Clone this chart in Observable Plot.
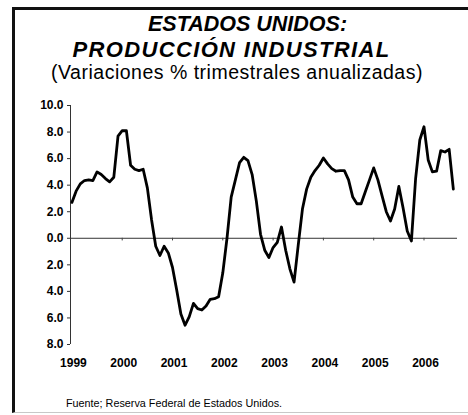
<!DOCTYPE html>
<html>
<head>
<meta charset="utf-8">
<script src="https://cdn.jsdelivr.net/npm/d3@7"></script>
<script src="https://cdn.jsdelivr.net/npm/@observablehq/plot@0.6"></script>
<style>
  html, body { margin: 0; padding: 0; background: #fff; }
  #wrap { position: relative; width: 468px; height: 415px; overflow: hidden; font-family: "Liberation Sans", Arial, sans-serif; color: #000; }
  #frame { position: absolute; left: 12px; top: 7px; width: 480px; height: 402px; border-top: 3px solid #111; border-left: 3px solid #111; border-bottom: 1px solid #c8c8c8; }
  .txt { position: absolute; white-space: nowrap; line-height: 1; transform: translateX(-50%); }
  #t1 { left: 247.5px; top: 13.8px; font-size: 21.5px; font-weight: bold; font-style: italic; }
  #t2 { left: 231.5px; top: 39.3px; font-size: 22px; font-weight: bold; font-style: italic; letter-spacing: 1.35px; }
  #sub { left: 237px; top: 63px; font-size: 19.5px; letter-spacing: 0.5px; }
  #foot { position: absolute; left: 66px; top: 397.7px; font-size: 10.8px; line-height: 1; white-space: nowrap; }
  #chart { position: absolute; left: 0; top: 95px; }
</style>
</head>
<body>
<div id="wrap">
  <div id="frame"></div>
  <div class="txt" id="t1">ESTADOS UNIDOS:</div>
  <div class="txt" id="t2">PRODUCCIÓN INDUSTRIAL</div>
  <div class="txt" id="sub">(Variaciones % trimestrales anualizadas)</div>
  <div id="chart"></div>
  <div id="foot">Fuente; Reserva Federal de Estados Unidos.</div>
</div>
<script>
// Monthly series, January 1999 – August 2006 (% change, 3-month annualized)
const startYear = 1999;
const values1999 = [2.7, 3.55, 4.1, 4.35, 4.4, 4.35, 5.0, 4.8, 4.5, 4.25, 4.6, 7.7];
const values2000 = [8.1, 8.1, 5.5, 5.2, 5.1, 5.2, 3.8, 1.4, -0.6, -1.3, -0.6, -1.1];
const values2001 = [-2.2, -3.9, -5.7, -6.55, -5.9, -4.9, -5.3, -5.4, -5.1, -4.6, -4.55, -4.4];
const values2002 = [-2.6, 0.0, 3.1, 4.4, 5.7, 6.1, 5.85, 4.8, 2.8, 0.3, -0.9, -1.45];
const values2003 = [-0.7, -0.3, 0.85, -0.9, -2.3, -3.3, -0.5, 2.2, 3.7, 4.6, 5.1, 5.5];
const values2004 = [6.05, 5.6, 5.25, 5.05, 5.1, 5.1, 4.4, 3.1, 2.6, 2.6, 3.5, 4.4];
const values2005 = [5.3, 4.4, 3.2, 2.0, 1.3, 2.2, 3.9, 2.3, 0.55, -0.2, 4.5, 7.4];
const values2006 = [8.4, 5.9, 5.0, 5.05, 6.6, 6.5, 6.7, 3.7];

const yearTicks = [1999, 2000, 2001, 2002, 2003, 2004, 2005, 2006];
const yTicks = [-8, -6, -4, -2, 0, 2, 4, 6, 8, 10];

const allValues = [].concat(values1999, values2000, values2001, values2002,
                            values2003, values2004, values2005, values2006);
const data = allValues.map((v, i) => ({t: startYear + i / 12, v}));

const x0 = 1998.972, x1 = 2006.666;

const chart = Plot.plot({
  width: 468,
  height: 320,
  marginLeft: 70,
  marginRight: 11,
  marginTop: 10,
  marginBottom: 71,
  style: {background: "transparent", fontFamily: "Liberation Sans, Arial, sans-serif", fontSize: "12px", fontWeight: "bold", color: "#000", overflow: "visible"},
  x: {domain: [x0, x1]},
  y: {domain: [-8, 10]},
  marks: [
    Plot.ruleY([0], {stroke: "#333", strokeWidth: 1}),
    Plot.ruleX(yearTicks.slice(1), {y1: 0, y2: -0.2, stroke: "#444", strokeWidth: 1}),
    Plot.ruleX([x0], {stroke: "#333", strokeWidth: 1}),
    Plot.axisY({ticks: yTicks, tickSize: 3, tickPadding: 4, tickFormat: d => Math.abs(d).toFixed(1), label: null, stroke: "#333"}),
    Plot.axisX({ticks: yearTicks, tickSize: 0, tickPadding: 14, tickFormat: d => String(d), label: null, dx: 1.5}),
    Plot.line(data, {x: "t", y: "v", stroke: "#000", strokeWidth: 2.8, strokeLinejoin: "round", strokeLinecap: "round"})
  ]
});
document.getElementById("chart").appendChild(chart);
</script>
</body>
</html>
